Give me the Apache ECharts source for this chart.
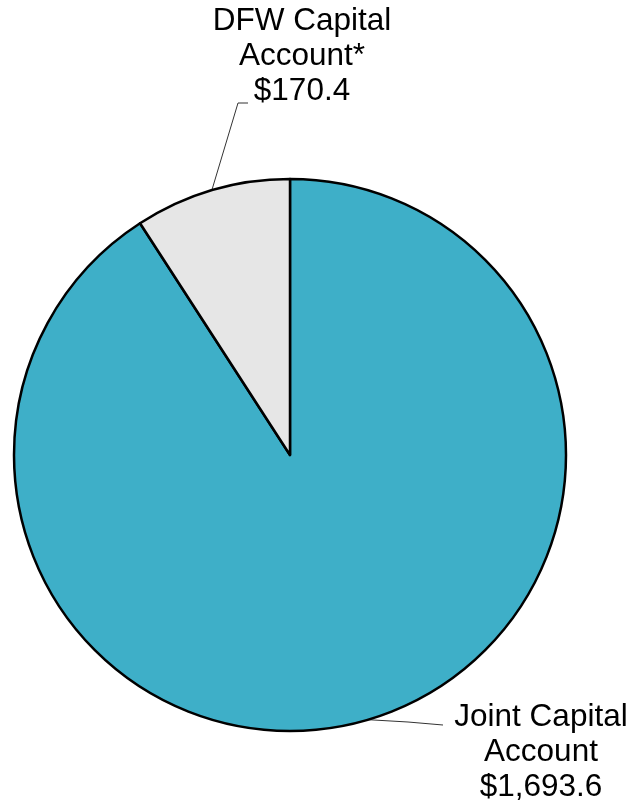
<!DOCTYPE html>
<html>
<head>
<meta charset="utf-8">
<script src="https://cdn.jsdelivr.net/npm/echarts@6/dist/echarts.min.js"></script>
<style>html,body{margin:0;padding:0;background:#fff;}#c{width:633px;height:806px;}</style>
</head>
<body>
<div id="c"></div>
<script>
const categories = ['Joint Capital\nAccount', 'DFW Capital\nAccount*'];
const values = [1693.6, 170.4];
const valueLabels = ['$1,693.6', '$170.4'];
const colors = ['#3EAFC8', '#E6E6E6'];

const chart = echarts.init(document.getElementById('c'), null, {renderer: 'canvas'});
const data = categories.map((c, i) => ({
  name: c,
  value: values[i],
  itemStyle: {color: colors[i]},
  label: {formatter: c + '\n' + valueLabels[i]}
}));

chart.setOption({
  animation: false,
  series: [{
    type: 'pie',
    center: [290, 455],
    radius: 276,
    startAngle: 90,
    clockwise: true,
    data: data,
    itemStyle: {borderColor: '#000', borderWidth: 2.5},
    label: {
      show: true,
      position: 'outside',
      overflow: 'none',
      fontFamily: 'Liberation Sans, Arial, sans-serif',
      fontSize: 31.5,
      lineHeight: 35,
      color: '#000',
      align: 'center'
    },
    labelLine: {show: true, lineStyle: {color: '#333', width: 1}},
    labelLayout: function (p) {
      const s = p.labelLinePoints ? p.labelLinePoints[0] : null;
      if (p.dataIndex === 1) {
        return {
          x: 302, y: 4, align: 'center', verticalAlign: 'top',
          labelLinePoints: s ? [s, [238, 103], [248, 103]] : undefined
        };
      } else {
        return {
          x: 541, y: 700, align: 'center', verticalAlign: 'top',
          labelLinePoints: s ? [s, [408, 722], [443, 725]] : undefined
        };
      }
    }
  }]
});
</script>
</body>
</html>
